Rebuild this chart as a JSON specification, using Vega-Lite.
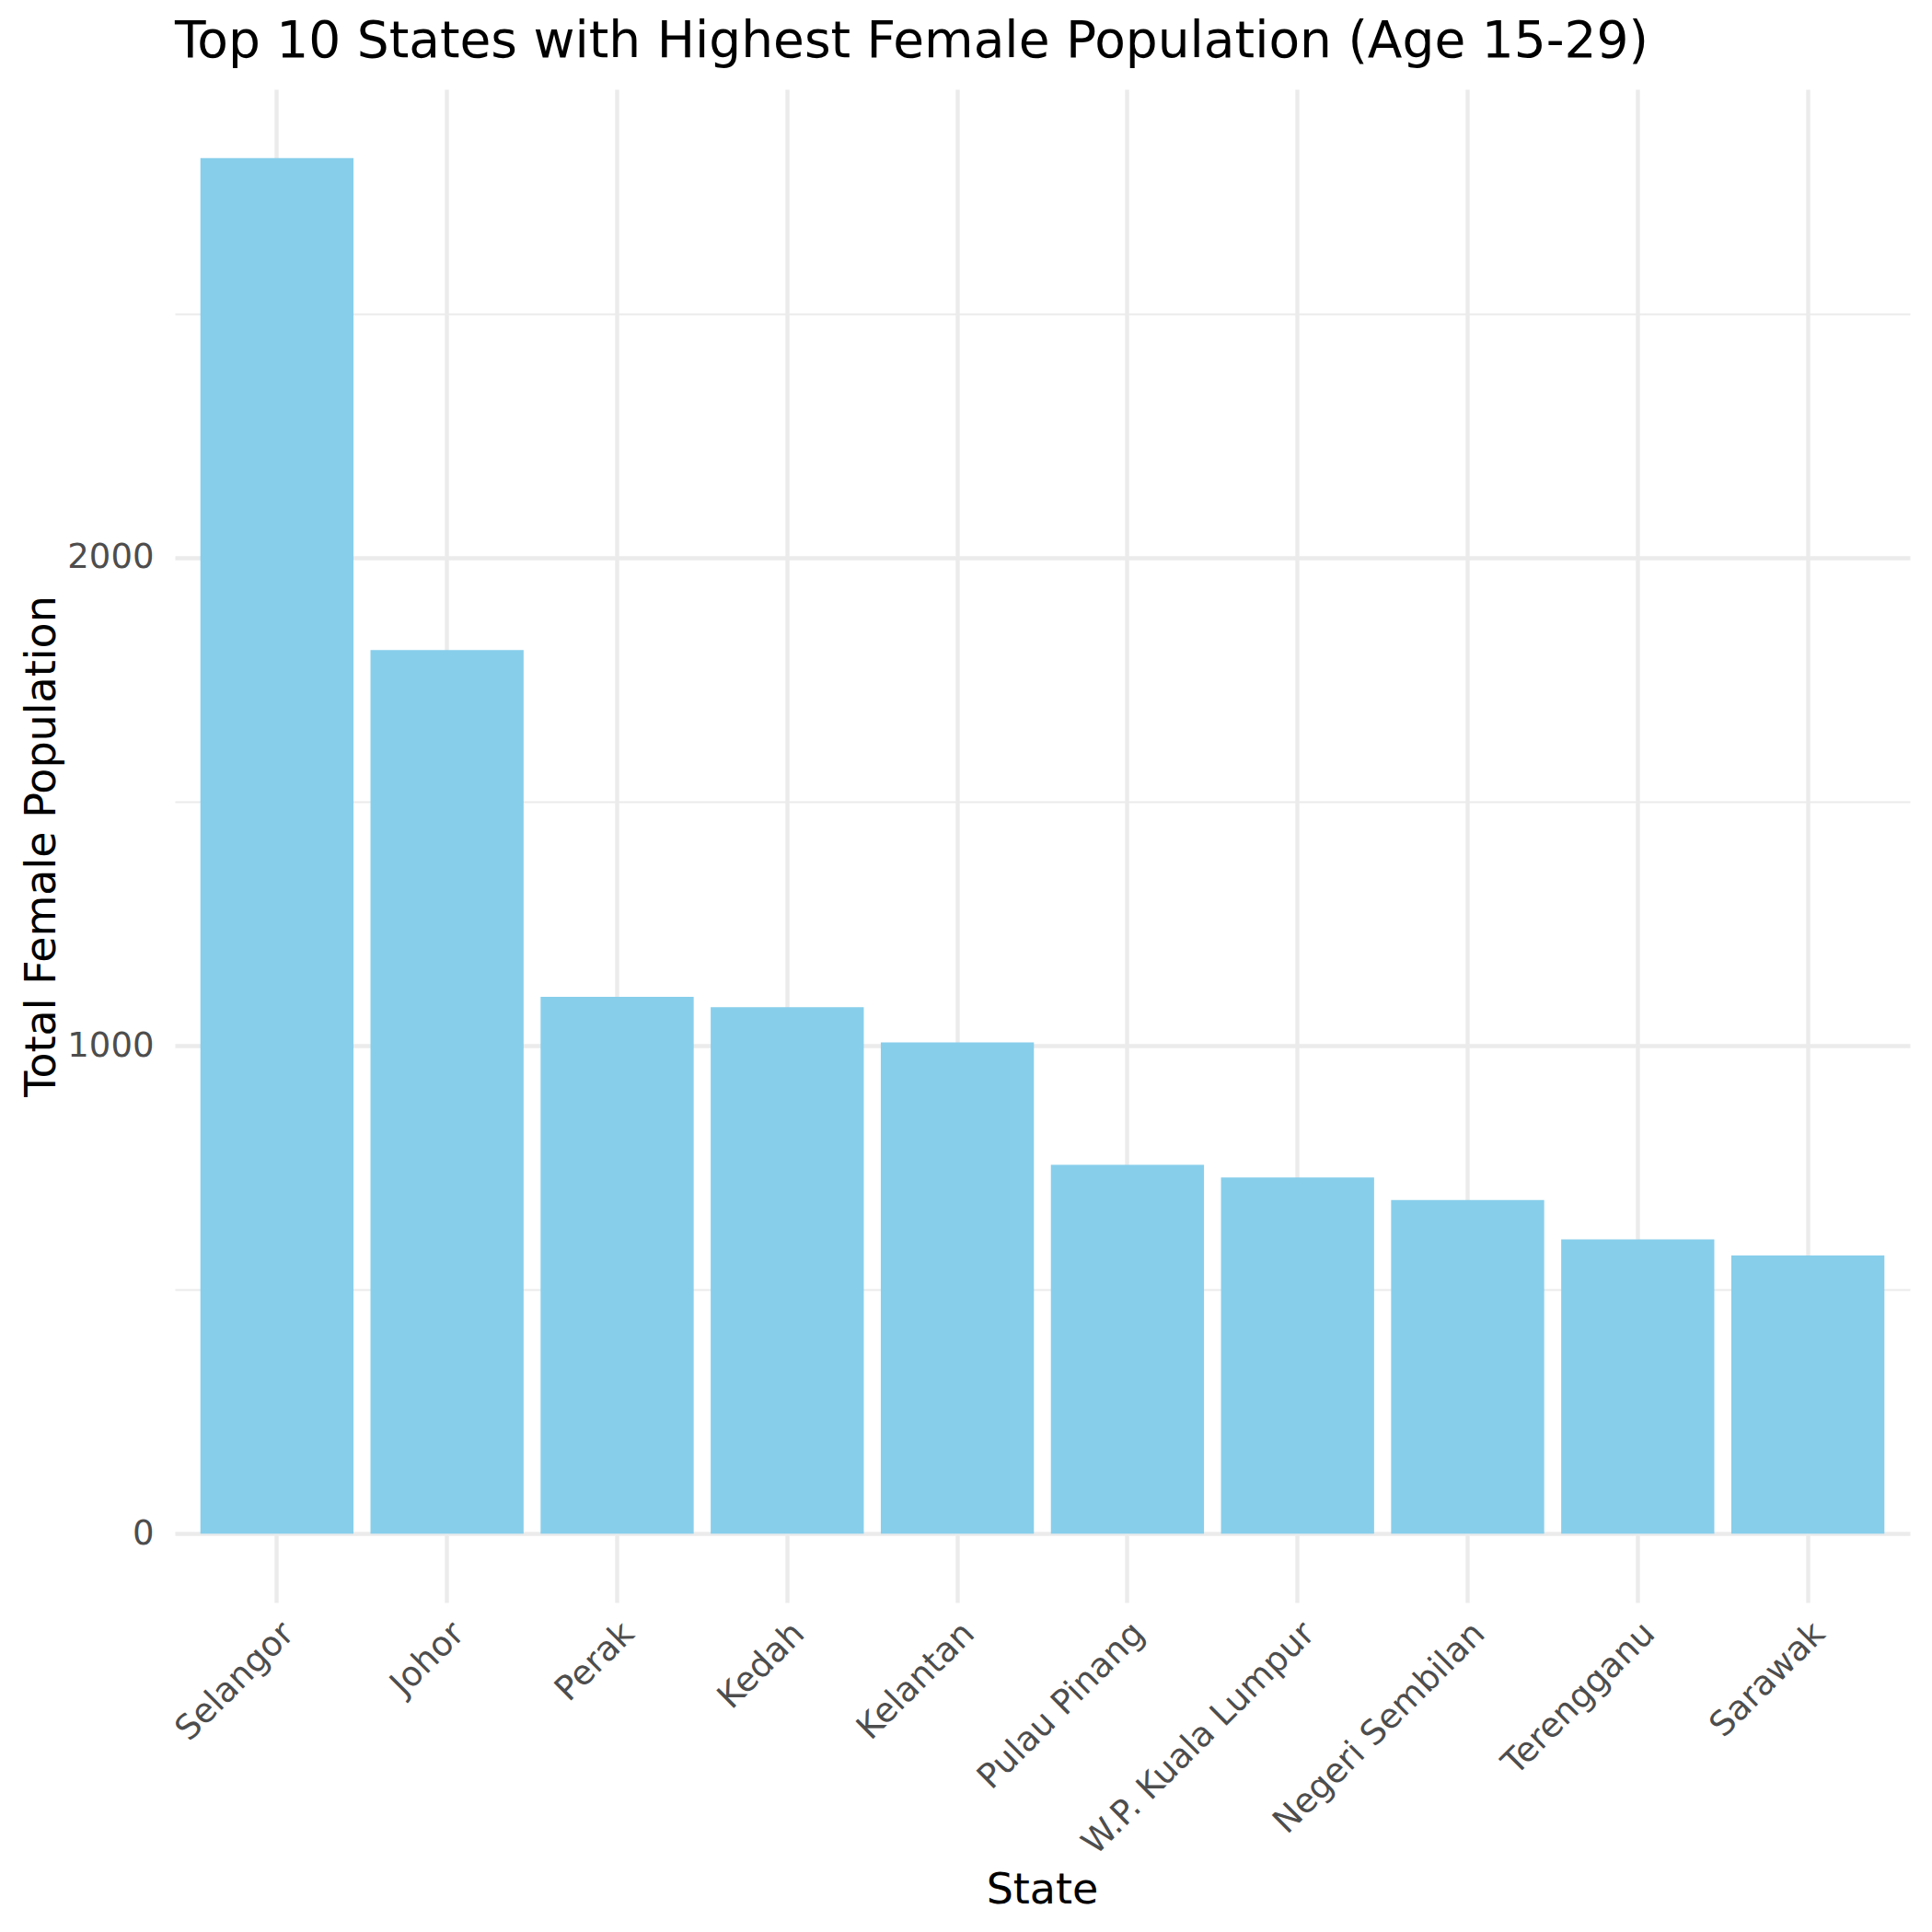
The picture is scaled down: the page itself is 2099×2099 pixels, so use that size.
{
  "$schema": "https://vega.github.io/schema/vega-lite/v6.json",
  "autosize": {"type": "none"},
  "padding": {"left": 190, "top": 97, "right": 24, "bottom": 358},
  "width": 1885,
  "height": 1644,
  "background": "white",
  "config": {
    "view": {"stroke": null},
    "font": "DejaVu Sans"
  },
  "title": {
    "text": "Top 10 States with Highest Female Population (Age 15-29)",
    "anchor": "start",
    "frame": "group",
    "font": "DejaVu Sans",
    "fontSize": 55,
    "fontWeight": "normal",
    "color": "#000000",
    "baseline": "alphabetic",
    "offset": -20
  },
  "data": {
    "values": [
      {"State": "Selangor", "Population": 2819},
      {"State": "Johor", "Population": 1811},
      {"State": "Perak", "Population": 1100},
      {"State": "Kedah", "Population": 1079},
      {"State": "Kelantan", "Population": 1007},
      {"State": "Pulau Pinang", "Population": 756},
      {"State": "W.P. Kuala Lumpur", "Population": 730},
      {"State": "Negeri Sembilan", "Population": 684},
      {"State": "Terengganu", "Population": 603},
      {"State": "Sarawak", "Population": 570}
    ]
  },
  "mark": {"type": "bar", "color": "#87CEEB"},
  "encoding": {
    "x": {
      "field": "State",
      "type": "nominal",
      "sort": null,
      "scale": {"paddingInner": 0.1, "paddingOuter": 0.15},
      "axis": {
        "title": "State",
        "titleFont": "DejaVu Sans",
        "titleFontSize": 46,
        "titleFontWeight": "normal",
        "titleColor": "#000000",
        "titleX": 942,
        "titleY": 326,
        "titleAlign": "center",
        "titleBaseline": "alphabetic",
        "labelAngle": -45,
        "labelAlign": "right",
        "labelBaseline": "top",
        "labelFont": "DejaVu Sans",
        "labelFontSize": 37,
        "labelColor": "#4D4D4D",
        "labelPadding": 15,
        "labelOverlap": false,
        "labelLimit": 0,
        "labelBound": false,
        "ticks": false,
        "domain": false,
        "grid": true,
        "gridColor": "#EBEBEB",
        "gridWidth": 4.4
      }
    },
    "y": {
      "field": "Population",
      "type": "quantitative",
      "scale": {"domain": [-141, 2960], "nice": false},
      "axis": {
        "title": "Total Female Population",
        "titleFont": "DejaVu Sans",
        "titleFontSize": 46,
        "titleFontWeight": "normal",
        "titleColor": "#000000",
        "titleAngle": -90,
        "titleX": -131,
        "titleY": 822,
        "titleAlign": "center",
        "titleBaseline": "alphabetic",
        "values": [0, 500, 1000, 1500, 2000, 2500],
        "format": "d",
        "labelExpr": "datum.value % 1000 === 0 ? datum.label : ''",
        "labelFont": "DejaVu Sans",
        "labelFontSize": 37,
        "labelColor": "#4D4D4D",
        "labelPadding": 23,
        "labelBaseline": "middle",
        "ticks": false,
        "domain": false,
        "grid": true,
        "gridColor": "#EBEBEB",
        "gridWidth": {"condition": {"test": "datum.value % 1000 === 0", "value": 4.4}, "value": 2.2}
      }
    }
  }
}
